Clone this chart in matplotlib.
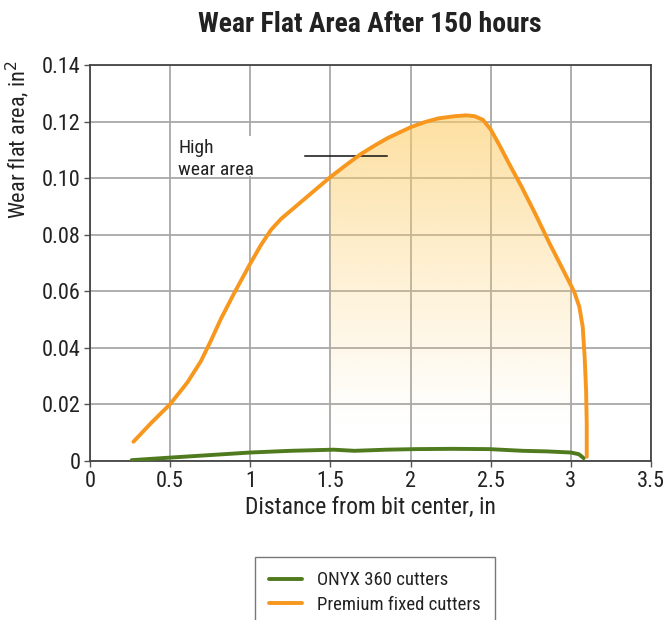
import matplotlib
matplotlib.use("Agg")
import matplotlib.pyplot as plt
from matplotlib import font_manager as fm
import numpy as np
from matplotlib.patches import Rectangle, Polygon

_avail = {f.name for f in fm.fontManager.ttflist}
_prefs = ['Roboto Condensed', 'Archivo Narrow', 'Fira Sans Condensed', 'PT Sans Narrow',
          'Liberation Sans Narrow', 'Arimo', 'Liberation Sans']
FONT = next((p for p in _prefs if p in _avail), 'DejaVu Sans')
plt.rcParams['font.family'] = [FONT, 'DejaVu Sans']

# Data
onyx_x = [0.26, 0.5, 0.75, 1.0, 1.25, 1.52, 1.65, 1.85, 2.03, 2.26, 2.49, 2.70, 2.85, 3.0, 3.05, 3.08]
onyx_y = [0.0003, 0.0012, 0.0021, 0.0030, 0.0036, 0.0040, 0.0036, 0.0040, 0.0042, 0.0043, 0.0042, 0.0036, 0.0034, 0.0030, 0.0024, 0.0010]

prem_x = [0.271, 0.379, 0.5, 0.608, 0.692, 0.754, 0.817, 0.90, 1.0, 1.067, 1.129, 1.192,
          1.296, 1.4, 1.5, 1.608, 1.692, 1.775, 1.858, 2.0, 2.088, 2.171, 2.275, 2.348,
          2.40, 2.452, 2.50, 2.556, 2.61, 2.694, 2.778, 2.863, 2.926, 2.979, 3.021, 3.053,
          3.074, 3.086, 3.095, 3.099, 3.099]
prem_y = [0.0068, 0.0133, 0.0201, 0.0278, 0.0353, 0.0425, 0.0503, 0.0594, 0.0698, 0.0764,
          0.0817, 0.0856, 0.0906, 0.0956, 0.1004, 0.1051, 0.1086, 0.1115, 0.1142, 0.1180,
          0.1198, 0.1211, 0.1219, 0.1222, 0.1219, 0.1206, 0.1172, 0.1115, 0.1056, 0.0968,
          0.0874, 0.0774, 0.0704, 0.0645, 0.0598, 0.0545, 0.0474, 0.0368, 0.0250, 0.0133,
          0.0015]

x_ticks = [0, 0.5, 1, 1.5, 2, 2.5, 3, 3.5]
x_labels = ["0", "0.5", "1", "1.5", "2", "2.5", "3", "3.5"]
y_ticks = [0, 0.02, 0.04, 0.06, 0.08, 0.10, 0.12, 0.14]
y_labels = ["0", "0.02", "0.04", "0.06", "0.08", "0.10", "0.12", "0.14"]

high_x0, high_x1 = 1.5, 3.0

GREEN = '#4f7a1e'
ORANGE = '#f7971e'
TXT = '#222222'

fig = plt.figure(figsize=(6.65, 6.2), dpi=100)
ax = fig.add_axes([90/665, 1 - 461/620, (651-90)/665, (461-65)/620])

ax.set_xlim(0, 3.5)
ax.set_ylim(0, 0.14)
ax.set_xticks(x_ticks)
ax.set_xticklabels(x_labels)
ax.set_yticks(y_ticks)
ax.set_yticklabels(y_labels)
ax.tick_params(labelsize=16, length=4, width=1, color='#555555', colors=TXT, pad=3)
ax.grid(True, color='#a8a8a8', linewidth=1.3)
ax.set_axisbelow(True)
for s in ax.spines.values():
    s.set_color('#444444')
    s.set_linewidth(1.3)

# gradient fill for high wear area
px = np.array(prem_x)
py = np.array(prem_y)
mask = (px >= high_x0) & (px <= high_x1)
top_x = np.concatenate([[high_x0], px[mask], [high_x1]])
top_y = np.concatenate([[np.interp(high_x0, px[:30], py[:30])], py[mask],
                        [np.interp(high_x1, px[25:38], py[25:38])]])
poly_pts = list(zip(top_x, top_y)) + [(high_x1, 0.0), (high_x0, 0.0)]
clip = Polygon(poly_pts, closed=True, facecolor='none', edgecolor='none', transform=ax.transData)
ax.add_patch(clip)
n = 256
t = np.linspace(0, 1, n)  # 0 bottom, 1 top
ybot, ytop = 0.012, 0.1225
alpha = t ** 1.1 * 0.62
img = np.zeros((n, 2, 4))
img[:, :, 0] = 0.992
img[:, :, 1] = 0.80
img[:, :, 2] = 0.40
img[:, :, 3] = alpha[:, None]
im = ax.imshow(img, extent=[high_x0, high_x1, ybot, ytop], origin='lower',
               aspect='auto', zorder=1.5, interpolation='bilinear')
im.set_clip_path(clip)
ax.set_xlim(0, 3.5)
ax.set_ylim(0, 0.14)

# white box behind annotation
ax.add_patch(Rectangle((0.52, 0.1008), 0.78, 0.0142, facecolor='white', edgecolor='none', zorder=1))
ax.text(0.55, 0.1107, "High", fontsize=14, color=TXT, va='center', ha='left', zorder=3)
ax.text(0.55, 0.1029, "wear area", fontsize=14, color=TXT, va='center', ha='left', zorder=3)
ax.plot([1.34, 1.85], [0.108, 0.108], color='#111111', linewidth=1.1, zorder=2.5)

ax.plot(onyx_x, onyx_y, color=GREEN, linewidth=2.8, solid_capstyle='round',
        solid_joinstyle='round', label='ONYX 360 cutters', zorder=4)
ax.plot(prem_x, prem_y, color=ORANGE, linewidth=2.8, solid_capstyle='round',
        solid_joinstyle='round', label='Premium fixed cutters', zorder=4)

fig.text(370/665, 1 - 25/620, "Wear Flat Area After 150 hours", ha='center', va='center',
         fontsize=20, fontweight='bold', color=TXT)
ax.set_xlabel("Distance from bit center, in", fontsize=17, color=TXT, labelpad=3)
fig.text(18/665, 1 - 140/620, "Wear flat area, in$^2$", rotation=90, ha='center', va='center',
         fontsize=16, color=TXT)

leg = fig.legend(loc='upper left', bbox_to_anchor=(255/665, 1 - 557/620), fontsize=13.5,
                 frameon=True, fancybox=False, edgecolor='#555555', handlelength=1.75,
                 borderpad=0.75, labelspacing=0.35, handletextpad=0.8, borderaxespad=0)
leg.get_frame().set_linewidth(1.0)
for t_ in leg.get_texts():
    t_.set_color(TXT)

fig.savefig('out.png', dpi=100)
